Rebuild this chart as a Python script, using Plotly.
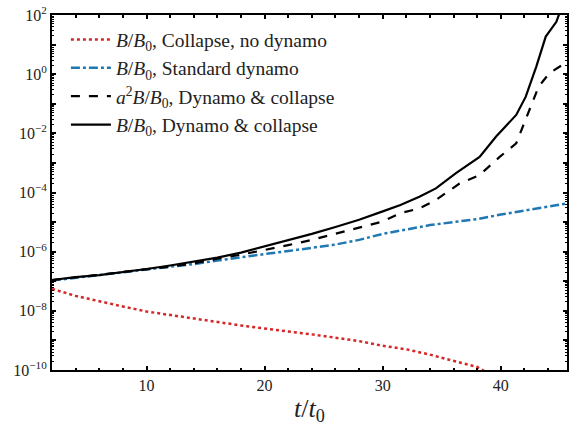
import plotly.graph_objects as go

# time axis samples (t/t0)
t_red = [2, 3, 4, 5, 6, 8, 10, 12, 14, 16, 18, 20, 22, 24, 26, 28, 30, 32, 34, 36, 38, 40, 42]
b_collapse = [5.5e-8, 4.2e-8, 3.2e-8, 2.6e-8, 2.1e-8, 1.4e-8, 9.5e-9, 7.1e-9, 5.4e-9, 4.2e-9,
              3.2e-9, 2.6e-9, 2.0e-9, 1.6e-9, 1.26e-9, 9.5e-10, 6.6e-10, 5.0e-10, 3.3e-10,
              2.1e-10, 1.26e-10, 4.5e-11, 1.3e-11]

t_blue = [2, 4, 6, 8, 10, 12, 14, 16, 18, 20, 22, 24, 26, 28, 30, 32, 34, 36, 38, 40, 42, 44, 45.6]
b_standard = [1.05e-7, 1.32e-7, 1.62e-7, 2.0e-7, 2.5e-7, 3.1e-7, 3.8e-7, 5.0e-7, 6.6e-7, 8.3e-7,
              1.05e-6, 1.32e-6, 1.74e-6, 2.5e-6, 4.0e-6, 5.6e-6, 7.9e-6, 1.0e-5, 1.26e-5,
              1.8e-5, 2.5e-5, 3.5e-5, 4.3e-5]

t_solid = [2, 4, 6, 8, 10, 12, 14, 16, 18, 20, 22, 24, 26, 28, 30, 31.5, 33.1, 34.5, 36.2,
           38.2, 39.6, 41.3, 42.1, 43.0, 43.8, 44.7, 45.0, 45.6]
b_dyn = [1.1e-7, 1.38e-7, 1.62e-7, 2.0e-7, 2.6e-7, 3.4e-7, 4.5e-7, 6.3e-7, 9.3e-7, 1.5e-6,
         2.5e-6, 4.0e-6, 6.8e-6, 1.2e-5, 2.3e-5, 3.8e-5, 7.2e-5, 1.38e-4, 4.5e-4,
         1.6e-3, 7.8e-3, 4.2e-2, 0.17, 1.8, 18.6, 59.0, 126.0, 500.0]

t_dash = [2, 4, 6, 8, 10, 12, 14, 16, 18, 20, 22, 24, 26, 28, 30, 31.5, 33.1, 34.5, 36.5,
          38.2, 39.9, 41.3, 42.1, 43.2, 44.1, 45.6]
a2b_dyn = [1.1e-7, 1.35e-7, 1.58e-7, 1.95e-7, 2.45e-7, 3.1e-7, 4.0e-7, 5.8e-7, 7.9e-7, 1.12e-6,
           1.66e-6, 2.5e-6, 4.0e-6, 6.3e-6, 1.05e-5, 2.0e-5, 2.9e-5, 5.6e-5, 2.0e-4,
           3.9e-4, 1.6e-3, 4.6e-3, 2.8e-2, 0.38, 1.07, 2.6]

y_tickvals = [1e-10, 1e-9, 1e-8, 1e-7, 1e-6, 1e-5, 1e-4, 1e-3, 1e-2, 1e-1, 1, 10, 100]
y_ticktext = ["10<sup>−10</sup>", "", "10<sup>−8</sup>", "", "10<sup>−6</sup>", "",
              "10<sup>−4</sup>", "", "10<sup>−2</sup>", "", "10<sup>0</sup>", "", "10<sup>2</sup>"]
x_tickvals = [10, 20, 30, 40]

FONT = "Liberation Serif"

fig = go.Figure()
fig.add_trace(go.Scatter(x=t_red, y=b_collapse, mode="lines",
                         name="<i>B</i>/<i>B</i><sub>0</sub>, Collapse, no dynamo",
                         line=dict(color="#d62728", width=2.5, dash="dot")))
fig.add_trace(go.Scatter(x=t_blue, y=b_standard, mode="lines",
                         name="<i>B</i>/<i>B</i><sub>0</sub>, Standard dynamo",
                         line=dict(color="#1f77b4", width=2.5, dash="dashdot")))
fig.add_trace(go.Scatter(x=t_dash, y=a2b_dyn, mode="lines",
                         name="<i>a</i><sup>2</sup><i>B</i>/<i>B</i><sub>0</sub>, Dynamo &amp; collapse",
                         line=dict(color="black", width=2.2, dash="dash")))
fig.add_trace(go.Scatter(x=t_solid, y=b_dyn, mode="lines",
                         name="<i>B</i>/<i>B</i><sub>0</sub>, Dynamo &amp; collapse",
                         line=dict(color="black", width=2.2)))

fig.update_layout(
    width=569, height=426,
    margin=dict(l=52, r=2, t=15, b=56, autoexpand=False),
    paper_bgcolor="white", plot_bgcolor="white",
    font=dict(family=FONT, color="#222", size=16),
    showlegend=True,
    legend=dict(x=0.027, y=0.985, xanchor="left", yanchor="top",
                bgcolor="rgba(0,0,0,0)", font=dict(size=19.5, family=FONT),
                itemwidth=40),
    xaxis=dict(range=[2, 45.6], showgrid=False, zeroline=False, automargin=False,
               showline=True, linecolor="black", linewidth=2, mirror="allticks",
               ticks="inside", ticklen=4, tickwidth=2, tickcolor="black",
               tickvals=x_tickvals, tickfont=dict(size=16, family=FONT),
               minor=dict(ticks="inside", ticklen=2.5, tickwidth=1.5, dtick=2, tick0=0,
                          tickcolor="black", showgrid=False),
               title=dict(text="<i>t</i>/<i>t</i><sub>0</sub>", font=dict(size=26, family=FONT),
                          standoff=6)),
    yaxis=dict(type="log", range=[-10, 2], showgrid=False, zeroline=False, automargin=False,
               showline=True, linecolor="black", linewidth=2, mirror="allticks",
               ticks="inside", ticklen=4, tickwidth=2, tickcolor="black",
               tickvals=y_tickvals, ticktext=y_ticktext,
               minor=dict(ticks="inside", ticklen=2, tickwidth=1, dtick="D1",
                          tickcolor="black", showgrid=False),
               tickfont=dict(size=16, family=FONT)),
)

fig.write_html("out.html", config={"displayModeBar": False},
               post_script="document.body.style.margin='0px';document.body.style.padding='0px';")
